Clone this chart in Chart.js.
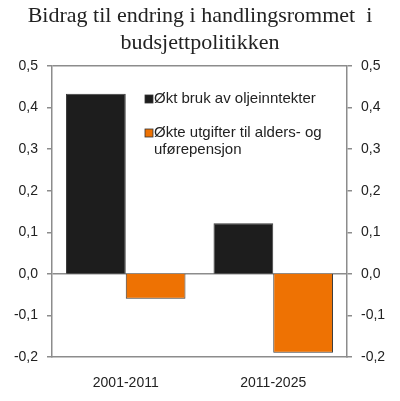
<!DOCTYPE html>
<html>
<head>
<meta charset="utf-8">
<script src="https://cdn.jsdelivr.net/npm/chart.js@4/dist/chart.umd.min.js"></script>
<style>
  html, body { margin: 0; padding: 0; background: #fff; }
  #wrap { width: 400px; height: 401px; }
</style>
</head>
<body>
<div id="wrap"><canvas id="chart"></canvas></div>
<script>
/* ---- data ---- */
const periods     = ["2001-2011", "2011-2025"];
const oilSpending = [0.433, 0.122];   // Økt bruk av oljeinntekter
const pensionCost = [-0.06, -0.19];   // Økte utgifter til alders- og uførepensjon
const seriesNames = ["Økt bruk av oljeinntekter", "Økte utgifter til alders- og uførepensjon"];
const legendLines = [["Økt bruk av oljeinntekter"], ["Økte utgifter til alders- og", "uførepensjon"]];
const titleLines  = ["Bidrag til endring i handlingsrommet  i", "budsjettpolitikken"];
const yMin = -0.2, yMax = 0.5, yStep = 0.1;

const AXIS = "#8c8c8c";
const TEXT = "#222";
const fmt = v => (Math.abs(v) < 1e-9 ? 0 : v).toFixed(1).replace(".", ",");

// legend sits inside the plot area, like the original
const innerLegend = {
  id: "innerLegend",
  afterDraw(chart) {
    const c = chart.ctx;
    const x0 = 145, ys = [99, 133], lh = 17;
    c.save();
    c.font = "15px 'Liberation Sans', Arial, sans-serif";
    c.textBaseline = "middle";
    chart.data.datasets.forEach((ds, i) => {
      c.fillStyle = ds.backgroundColor;
      c.fillRect(x0, ys[i] - 4, 8, 8);
      c.strokeStyle = "#333";
      c.lineWidth = 0.8;
      c.strokeRect(x0, ys[i] - 4, 8, 8);
      c.fillStyle = TEXT;
      legendLines[i].forEach((t, j) => c.fillText(t, x0 + 9, ys[i] + j * lh));
    });
    c.restore();
  }
};

const yTicks = {
  stepSize: yStep,
  color: TEXT,
  font: { family: "'Liberation Sans', Arial, sans-serif", size: 14 },
  padding: 9,
  callback: v => fmt(v)
};

new Chart(document.getElementById("chart"), {
  type: "bar",
  data: {
    labels: periods,
    datasets: [
      { label: seriesNames[0], data: oilSpending, backgroundColor: "#1d1d1d",
        borderColor: "#3a3a3a", borderWidth: 1 },
      { label: seriesNames[1], data: pensionCost, backgroundColor: "#ee7203",
        borderColor: "#3a3a3a", borderWidth: 1 }
    ]
  },
  options: {
    responsive: true,
    maintainAspectRatio: false,
    animation: false,
    datasets: { bar: { categoryPercentage: 0.81, barPercentage: 1 } },
    layout: { padding: 0 },
    plugins: {
      legend: { display: false },
      tooltip: { enabled: false },
      title: {
        display: true,
        text: titleLines,
        color: TEXT,
        font: { family: "'Liberation Serif', 'Times New Roman', serif", size: 22, weight: "normal", lineHeight: 1.25 },
        padding: { top: 2, bottom: 9 }
      }
    },
    scales: {
      x: {
        afterFit: s => { s.height = 44; },
        grid: { display: false },
        border: { color: AXIS, width: 1.5 },
        ticks: { color: TEXT, font: { family: "'Liberation Sans', Arial, sans-serif", size: 14 }, padding: 10 }
      },
      y: {
        position: "left",
        min: yMin, max: yMax,
        afterFit: s => { s.width = 52; },
        grid: {
          color: ctx => (ctx.tick && (Math.abs(ctx.tick.value) < 1e-9 || Math.abs(ctx.tick.value - yMax) < 1e-9)) ? AXIS : "transparent",
          tickColor: AXIS,
          lineWidth: 1.5,
          tickLength: 5
        },
        border: { color: AXIS, width: 1.5 },
        ticks: yTicks
      },
      y2: {
        position: "right",
        min: yMin, max: yMax,
        afterFit: s => { s.width = 53; },
        grid: { drawOnChartArea: false, tickColor: AXIS, lineWidth: 1.5, tickLength: 5 },
        border: { color: AXIS, width: 1.5 },
        ticks: yTicks
      }
    }
  },
  plugins: [innerLegend]
});
</script>
</body>
</html>
